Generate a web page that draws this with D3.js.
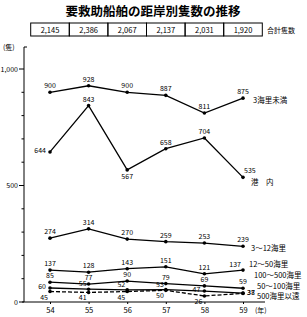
<!DOCTYPE html>
<html>
<head>
<meta charset="utf-8">
<script src="https://cdn.jsdelivr.net/npm/d3@7"></script>
<style>
  body { margin: 0; background: #fff; }
  svg { font-family: "Noto Sans CJK JP", sans-serif; }
</style>
</head>
<body>
<svg width="307" height="317"></svg>
<script>
var years = ['54', '55', '56', '57', '58', '59'];
var totals = ['2,145', '2,386', '2,067', '2,137', '2,031', '1,920'];

var lt3 = [900, 928, 900, 887, 811, 875];
var harbor = [644, 843, 567, 658, 704, 535];
var nm3to12 = [274, 314, 270, 259, 253, 239];
var nm12to50 = [137, 128, 143, 151, 121, 137];
var nm100to500 = [85, 77, 90, 79, 69, 59];
var nm50to100 = [60, 55, 52, 53, 47, 38];
var nm500plus = [45, 41, 45, 50, 26, 37];

var seriesNames = ['3海里未満', '港　内', '3～12海里', '12～50海里', '100～500海里', '50～100海里', '500海里以遠'];

// label placement per point: a=above, b=below, l=left, al=above-left, bl=below-left, r=right, ar=above-right
var series = [
    {name: seriesNames[0], values: lt3, pos: ['a','a','a','a','a','a'], nx: 253, ny: 103},
    {name: seriesNames[1], values: harbor, pos: ['l','a','b','a','a','ar'], nx: 251, ny: 185},
    {name: seriesNames[2], values: nm3to12, pos: ['a','a','a','a','a','a'], nx: 251, ny: 251},
    {name: seriesNames[3], values: nm12to50, pos: ['a','a','a','a','a','al'], nx: 249, ny: 267},
    {name: seriesNames[4], values: nm100to500, pos: ['a','a','a','a','a','a'], nx: 254, ny: 278},
    {name: seriesNames[5], values: nm50to100, pos: ['l','al','al','al','l','r'], nx: 257, ny: 289},
    {name: seriesNames[6], values: nm500plus, pos: ['bl','bl','bl','bl','bl','r'], nx: 257, ny: 299, dashed: true}
];

var svg = d3.select('svg');

var x = d3.scalePoint().domain(years).range([50, 243]);
var y = d3.scaleLinear().domain([0, 1000]).range([302, 69]);

// title
svg.append('text')
    .attr('x', 153)
    .attr('y', 16)
    .attr('text-anchor', 'middle')
    .style('font-size', '12.5px')
    .style('font-weight', 'bold')
    .text('要救助船舶の距岸別隻数の推移');

// totals table
var cellW = x.step();
var table = svg.append('g');
table.selectAll('rect')
    .data(totals)
    .enter().append('rect')
    .attr('x', function(d, i) { return x(years[i]) - cellW / 2; })
    .attr('y', 23)
    .attr('width', cellW)
    .attr('height', 13)
    .attr('fill', 'none')
    .attr('stroke', '#000')
    .attr('stroke-width', 1);
table.selectAll('text')
    .data(totals)
    .enter().append('text')
    .attr('x', function(d, i) { return x(years[i]); })
    .attr('y', 32.5)
    .attr('text-anchor', 'middle')
    .style('font-size', '7.5px')
    .text(function(d) { return d; });
svg.append('text')
    .attr('x', 267)
    .attr('y', 33)
    .style('font-size', '7px')
    .text('合計隻数');

// y axis
var yAxis = svg.append('g').attr('transform', 'translate(24,0)');
yAxis.append('path')
    .attr('d', 'M0,' + y(0) + 'V47h3')
    .attr('fill', 'none')
    .attr('stroke', '#000')
    .attr('stroke-width', 1);
yAxis.selectAll('line.tick')
    .data(d3.range(0, 1001, 100))
    .enter().append('line')
    .attr('x1', function(d) { return d % 500 === 0 ? -5 : -2.5; })
    .attr('x2', 0)
    .attr('y1', function(d) { return y(d); })
    .attr('y2', function(d) { return y(d); })
    .attr('stroke', '#000');
yAxis.selectAll('text.lab')
    .data([0, 500, 1000])
    .enter().append('text')
    .attr('x', -6)
    .attr('y', function(d) { return y(d) + 2.5; })
    .attr('text-anchor', 'end')
    .style('font-size', '7px')
    .text(function(d) { return d3.format(',')(d); });
svg.append('text')
    .attr('x', 3)
    .attr('y', 50)
    .style('font-size', '7px')
    .text('(隻)');

// x axis
var xAxis = svg.append('g').attr('transform', 'translate(0,' + y(0) + ')');
xAxis.call(d3.axisBottom(x).tickSize(2).tickPadding(4))
    .call(function(g) { g.select('.domain').attr('d', 'M22,0H265'); })
    .selectAll('text')
    .style('font-size', '7.5px')
    .style('font-family', '"Noto Sans CJK JP", sans-serif');
svg.append('text')
    .attr('x', 255)
    .attr('y', 313)
    .style('font-size', '7px')
    .text('(年)');

// lines
var line = d3.line()
    .x(function(d, i) { return x(years[i]); })
    .y(function(d) { return y(d); });

var off = {
    a: [0, -4, 'middle'],
    b: [0, 9, 'middle'],
    l: [-4, 1, 'end'],
    r: [4, 2, 'start'],
    al: [-2, -3, 'end'],
    bl: [-2, 8, 'end'],
    ar: [1, -4, 'start']
};

series.forEach(function(s) {
    var g = svg.append('g');
    g.append('path')
        .datum(s.values)
        .attr('d', line)
        .attr('fill', 'none')
        .attr('stroke', '#000')
        .attr('stroke-width', 1.3)
        .attr('stroke-dasharray', s.dashed ? '4,2' : null);
    g.selectAll('circle')
        .data(s.values)
        .enter().append('circle')
        .attr('cx', function(d, i) { return x(years[i]); })
        .attr('cy', function(d) { return y(d); })
        .attr('r', 1.8)
        .attr('fill', '#000');
    g.selectAll('text')
        .data(s.values)
        .enter().append('text')
        .attr('x', function(d, i) { return x(years[i]) + off[s.pos[i]][0]; })
        .attr('y', function(d, i) { return y(d) + off[s.pos[i]][1]; })
        .attr('text-anchor', function(d, i) { return off[s.pos[i]][2]; })
        .style('font-size', '7px')
        .text(function(d) { return d; });
    svg.append('text')
        .attr('x', s.nx)
        .attr('y', s.ny)
        .style('font-size', '7.5px')
        .text(s.name);
});
</script>
</body>
</html>
